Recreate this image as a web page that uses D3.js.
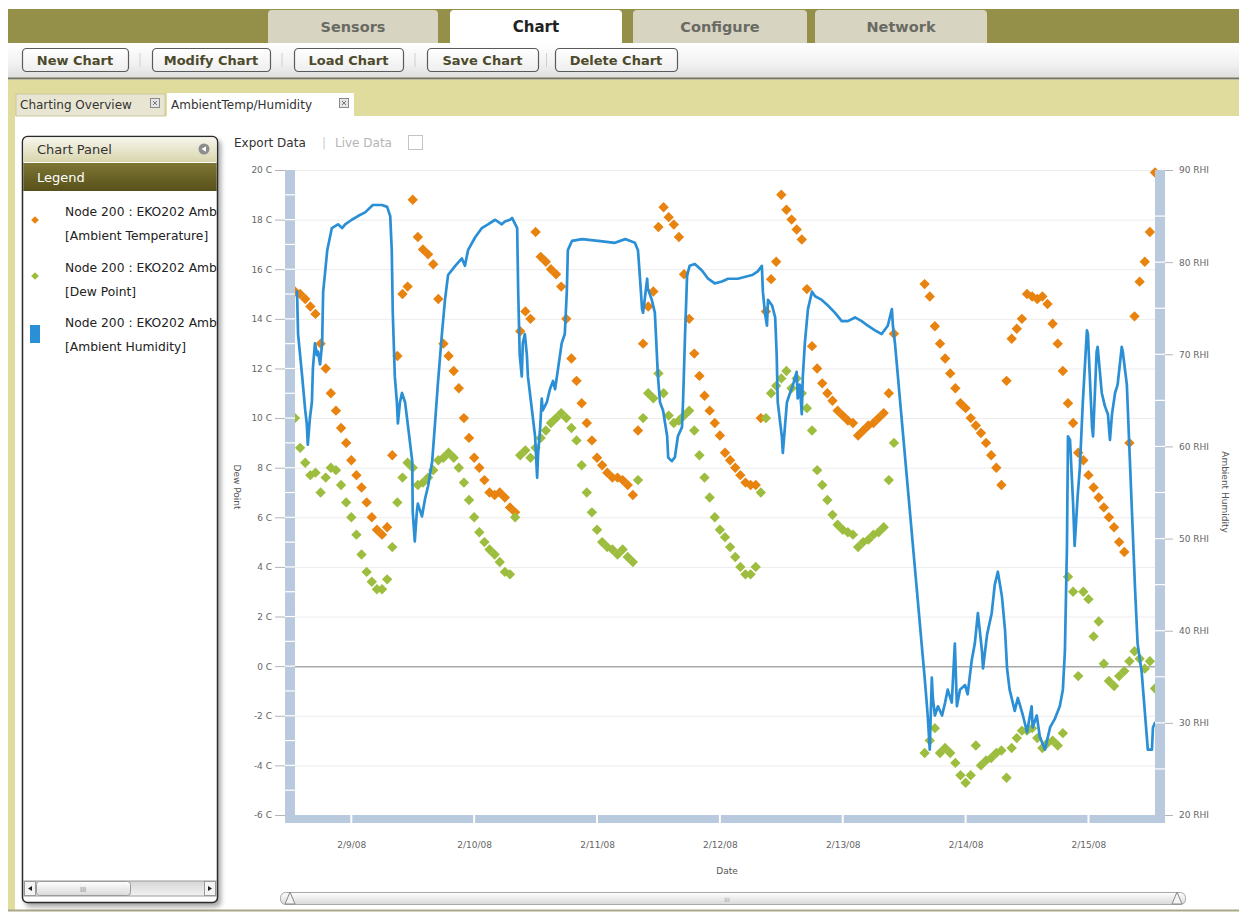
<!DOCTYPE html>
<html>
<head>
<meta charset="utf-8">
<script src="https://cdn.jsdelivr.net/npm/d3@7"></script>
<style>
  html, body { margin: 0; padding: 0; background: #ffffff; }
  svg { display: block; font-family: "DejaVu Sans", Verdana, sans-serif; }
</style>
</head>
<body>
<svg id="app" width="1239" height="914"></svg>
<script>
// ---- Chart data -------------------------------------------------------
// Hourly readings starting 2/8/08 13:00 (index = hours since start).
const startTime = new Date(2008, 1, 8, 13, 0);

const ambientTemperature = [
  15.1, 15.0, 14.8, 14.5, 14.2, 13.0, 12.0, 11.0, 10.3, 9.6, 9.0, 8.3, 7.7, 7.2, 6.6, 6.0, 5.5, 5.3, 5.6, 8.5,
  12.5, 15.0, 15.3, 18.8, 17.3, 16.8, 16.6, 16.2, 14.8, 13.0, 12.5, 11.9, 11.2, 10.0, 9.2, 8.4, 8.0, 7.5, 7.0, 6.9,
  7.0, 6.8, 6.4, 6.2, 13.5, 14.3, 14.0, 17.5, 16.5, 16.3, 16.0, 15.8, 15.3, 14.0, 12.4, 11.5, 10.6, 9.8, 9.1, 8.4,
  8.1, 7.8, 7.6, 7.6, 7.5, 7.3, 6.9, 9.5, 13.0, 14.5, 15.1, 17.7, 18.5, 18.1, 17.8, 17.3, 15.8, 14.0, 12.6, 11.7,
  10.9, 10.3, 9.8, 9.3, 8.6, 8.3, 8.0, 7.7, 7.4, 7.3, 7.3, 10.0, 14.3, 15.6, 16.3, 19.0, 18.4, 18.0, 17.6, 17.2,
  15.2, 12.9, 12.0, 11.4, 11.0, 10.7, 10.3, 10.1, 9.9, 9.8, 9.3, 9.5, 9.7, 9.8, 10.0, 10.2, 11.0, 13.4, null, null,
  null, null, null, 15.4, 14.9, 13.7, 13.0, 12.4, 11.8, 11.2, 10.6, 10.4, 10.0, 9.7, 9.4, 9.0, 8.5, 8.0, 7.3, 11.5,
  13.2, 13.6, 14.0, 15.0, 14.9, 14.8, 14.9, 14.6, 13.8, 13.0, 11.9, 10.6, 9.8, 8.6, 8.3, 7.7, 7.2, 6.8, 6.4, 6.0,
  5.6, 5.0, 4.6, 9.0, 14.1, 15.5, 16.3, 17.5, 19.9
];

const dewPoint = [
  10.0, 8.8, 8.2, 7.7, 7.8, 7.0, 7.6, 8.0, 7.9, 7.3, 6.6, 6.0, 5.3, 4.5, 3.8, 3.4, 3.1, 3.1, 3.5, 4.8,
  6.6, 7.6, 8.2, 8.0, 7.3, 7.4, 7.6, 7.9, 8.3, 8.4, 8.6, 8.4, 8.0, 7.4, 6.7, 6.0, 5.4, 5.0, 4.7, 4.5,
  4.2, 3.8, 3.7, 6.0, 8.5, 8.7, 8.4, 8.8, 9.2, 9.5, 9.8, 10.0, 10.2, 10.0, 9.6, 9.1, 8.1, 7.0, 6.2, 5.5,
  5.0, 4.8, 4.7, 4.5, 4.7, 4.4, 4.2, 7.5, 10.0, 11.0, 10.8, 11.8, 11.0, 10.1, 9.8, 9.9, 10.1, 10.3, 9.5, 8.5,
  7.6, 6.8, 6.0, 5.5, 5.2, 4.8, 4.4, 4.0, 3.7, 3.7, 4.0, 7.0, 10.0, 11.0, 11.3, 11.6, 11.9, 11.2, 11.6, 11.0,
  10.4, 9.5, 7.9, 7.3, 6.7, 6.1, 5.7, 5.5, 5.4, 5.3, 4.8, 5.0, 5.1, 5.3, 5.4, 5.6, 7.5, 9.0, null, null,
  null, null, null, -3.5, -3.0, -2.5, -3.5, -3.3, -3.5, -3.9, -4.4, -4.7, -4.4, -3.2, -4.0, -3.8, -3.7, -3.5, -3.4, -4.5,
  -3.3, -2.9, -2.6, -2.6, -2.5, -2.9, -3.3, -3.1, -3.0, -3.2, -2.7, 3.6, 3.0, -0.4, 3.0, 2.7, 1.2, 1.8, 0.1, -0.6,
  -0.8, -0.4, -0.2, 0.2, 0.6, 0.3, -0.1, 0.2, -0.9
];

// Humidity logged irregularly: [hours since start, % RH]
const ambientHumidity = [
  [0.4, 76.8], [0.6, 72.2], [1.4, 67.6], [2.0, 63.9], [2.3, 62.5], [2.5, 60.2], [2.9, 63.0], [3.3, 64.8],
  [3.5, 68.5], [3.9, 71.2], [4.3, 69.9], [4.5, 70.3], [4.9, 68.9], [5.3, 71.2], [5.5, 76.8], [5.9, 79.0],
  [6.3, 81.3], [7.2, 83.7], [8.4, 84.1], [9.2, 83.7], [9.8, 84.1], [11.1, 84.6], [12.3, 85.0], [13.7, 85.4],
  [15.2, 86.2], [17.0, 86.2], [18.0, 86.0], [18.6, 85.0], [18.9, 81.3], [19.1, 74.5], [19.5, 67.6], [19.9, 64.8],
  [20.1, 62.5], [20.5, 64.8], [20.9, 65.8], [21.5, 64.8], [22.1, 62.1], [22.9, 58.4], [23.0, 52.9], [23.4, 49.7],
  [23.8, 52.9], [24.0, 53.8], [24.8, 52.4], [25.4, 54.3], [26.0, 55.7], [26.8, 58.4], [27.3, 62.1], [27.9, 66.7],
  [28.7, 72.2], [29.3, 75.9], [29.9, 78.6], [31.3, 79.6], [32.6, 80.4], [33.2, 79.6], [33.8, 81.3], [35.2, 82.7],
  [36.5, 83.7], [37.7, 84.1], [39.1, 84.6], [40.4, 84.1], [41.0, 84.4], [42.0, 84.6], [42.4, 84.8], [43.4, 83.7],
  [43.6, 76.8], [43.9, 69.9], [44.3, 67.6], [44.5, 71.2], [44.9, 72.2], [45.3, 69.9], [45.5, 67.6], [46.3, 63.9],
  [46.9, 61.1], [47.3, 56.6], [47.5, 59.3], [47.9, 62.1], [48.2, 65.2], [48.4, 63.9], [49.2, 64.8], [49.8, 66.2],
  [50.4, 67.1], [50.8, 66.2], [51.4, 68.5], [52.1, 71.2], [52.7, 72.2], [53.1, 76.8], [53.3, 81.3], [54.1, 82.3],
  [56.1, 82.5], [59.2, 82.3], [62.5, 82.1], [64.5, 82.5], [66.4, 82.1], [67.0, 81.3], [67.4, 78.2], [67.8, 74.9],
  [68.0, 74.5], [68.8, 78.2], [68.9, 77.2], [69.7, 75.9], [70.3, 74.5], [70.9, 67.6], [71.3, 64.8], [71.9, 63.9],
  [72.7, 61.1], [72.9, 58.8], [73.6, 58.4], [74.2, 58.8], [74.8, 61.1], [75.6, 62.1], [75.8, 64.8], [76.2, 72.2],
  [76.6, 78.6], [77.1, 79.6], [78.1, 79.8], [79.5, 79.1], [80.7, 78.2], [82.0, 77.7], [83.4, 77.9], [84.6, 78.2],
  [86.5, 78.2], [89.3, 78.6], [90.4, 79.0], [91.2, 79.6], [91.4, 76.8], [91.8, 74.5], [92.2, 73.1], [92.4, 75.9],
  [93.2, 75.3], [93.8, 74.0], [94.1, 69.9], [94.3, 64.8], [95.1, 61.1], [95.3, 59.3], [95.7, 62.1], [96.1, 64.8],
  [96.7, 65.8], [97.3, 66.7], [98.0, 68.1], [98.2, 65.2], [98.6, 66.7], [99.0, 63.5], [99.2, 67.6], [99.6, 71.2],
  [100.2, 74.9], [101.0, 76.8], [101.6, 76.3], [102.9, 75.9], [104.1, 75.3], [105.5, 74.5], [106.8, 73.6], [108.0, 73.6],
  [109.4, 74.0], [110.7, 73.6], [111.9, 73.1], [113.3, 72.6], [114.6, 72.2], [115.8, 73.1], [116.6, 74.9], [116.8, 73.1],
  [117.2, 71.2], [123.0, 34.9], [123.4, 32.2], [123.6, 30.8], [124.0, 27.1], [124.4, 34.9], [124.6, 32.7], [125.0, 30.8],
  [125.6, 31.8], [126.4, 30.8], [127.0, 32.2], [127.5, 33.6], [128.3, 32.2], [128.9, 38.6], [129.3, 31.8], [129.9, 33.6],
  [130.9, 34.1], [131.4, 33.1], [132.2, 36.8], [132.8, 38.6], [133.4, 41.9], [134.2, 37.8], [134.4, 35.9], [135.2, 39.6],
  [136.1, 41.9], [136.7, 45.0], [137.3, 46.4], [138.1, 43.7], [138.7, 40.1], [139.1, 35.9], [139.6, 33.6], [140.6, 31.3],
  [141.2, 32.7], [142.2, 30.8], [143.0, 29.0], [143.9, 31.8], [144.1, 29.5], [144.9, 30.8], [145.5, 28.5], [146.5, 27.1],
  [147.5, 29.5], [148.4, 30.4], [149.4, 31.8], [150.0, 33.6], [150.4, 37.8], [150.8, 49.2], [151.0, 61.1], [151.4, 60.7],
  [152.0, 53.8], [152.3, 49.2], [152.9, 54.7], [153.3, 57.5], [153.9, 64.8], [154.7, 72.6], [154.9, 72.2], [155.7, 62.1],
  [155.9, 61.1], [156.6, 70.3], [156.8, 70.8], [157.6, 65.8], [158.2, 64.4], [158.8, 63.5], [159.2, 60.7], [159.6, 63.5],
  [160.2, 65.8], [160.7, 66.7], [161.5, 70.8], [161.7, 70.3], [162.5, 66.7], [163.1, 58.4], [164.1, 44.6], [164.6, 38.6],
  [165.4, 35.5], [166.0, 31.3], [166.6, 27.1], [167.4, 27.1], [167.6, 29.5], [168.0, 30.0]
];

const temperatureTicks = [20, 18, 16, 14, 12, 10, 8, 6, 4, 2, 0, -2, -4, -6];
const humidityTicks = [90, 80, 70, 60, 50, 40, 30, 20];

// ---- UI text ------------------------------------------------------------
const navTabs = ["Sensors", "Chart", "Configure", "Network"];
const toolButtons = ["New Chart", "Modify Chart", "Load Chart", "Save Chart", "Delete Chart"];
const docTabs = ["Charting Overview", "AmbientTemp/Humidity"];
// series names are cut off by the narrow legend panel
const legendEntries = [
  { name: "Node 200 : EKO202 Amb", field: "[Ambient Temperature]", color: "#e8830f", shape: "diamond" },
  { name: "Node 200 : EKO202 Amb", field: "[Dew Point]", color: "#9dbd3f", shape: "diamond" },
  { name: "Node 200 : EKO202 Amb", field: "[Ambient Humidity]", color: "#2b8fd6", shape: "square" }
];

const COLORS = { temp: "#e8830f", dew: "#9dbd3f", hum: "#2b8fd6", bar: "#b9c9de" };

// ---- Drawing -----------------------------------------------------------
const svg = d3.select("#app");
const defs = svg.append("defs");
function vGrad(id, stops) {
  const g = defs.append("linearGradient").attr("id", id)
    .attr("x1", 0).attr("y1", 0).attr("x2", 0).attr("y2", 1);
  stops.forEach(([o, c]) => g.append("stop").attr("offset", o).attr("stop-color", c));
}
vGrad("gToolbar", [[0, "#ffffff"], [0.6, "#f1f1f1"], [1, "#dedede"]]);
vGrad("gHeader", [[0, "#f7f6ec"], [1, "#d8d5ad"]]);
vGrad("gLegendBar", [[0, "#7e7634"], [1, "#57501a"]]);
vGrad("gButton", [[0, "#ffffff"], [1, "#eeeeee"]]);
vGrad("gScroll", [[0, "#ffffff"], [1, "#d9d9d9"]]);
vGrad("gTrack", [[0, "#d6d6d6"], [1, "#f2f2f2"]]);
defs.append("filter").attr("id", "shadow").attr("x", "-10%").attr("y", "-10%").attr("width", "130%").attr("height", "130%")
  .append("feGaussianBlur").attr("stdDeviation", 2.5);

// top navigation band
svg.append("rect").attr("x", 8).attr("y", 9).attr("width", 1231).attr("height", 34).attr("fill", "#959049");
const navX = [268, 450, 633, 815];
const navW = [170, 172, 174, 172];
navTabs.forEach((t, i) => {
  const x = navX[i], w = navW[i], y = 10, b = 43, r = 4;
  const sel = t === "Chart";
  svg.append("path")
    .attr("d", `M${x},${b}V${y + r}Q${x},${y} ${x + r},${y}H${x + w - r}Q${x + w},${y} ${x + w},${y + r}V${b}Z`)
    .attr("fill", sel ? "#ffffff" : "#d7d5c2");
  svg.append("text").attr("x", x + w / 2).attr("y", 32).attr("text-anchor", "middle")
    .attr("font-size", sel ? 15 : 14.5).attr("font-weight", "bold")
    .attr("fill", sel ? "#222222" : "#6a6a64").text(t);
});

// toolbar
svg.append("rect").attr("x", 8).attr("y", 43).attr("width", 1231).attr("height", 35).attr("fill", "url(#gToolbar)");
svg.append("line").attr("x1", 8).attr("x2", 1239).attr("y1", 78.5).attr("y2", 78.5).attr("stroke", "#77755a").attr("stroke-width", 2);
const btnX = [22, 152, 294, 427, 555];
const btnW = [106, 118, 109, 111, 122];
toolButtons.forEach((t, i) => {
  svg.append("rect").attr("x", btnX[i] + 0.5).attr("y", 48.5).attr("width", btnW[i]).attr("height", 23).attr("rx", 4)
    .attr("fill", "url(#gButton)").attr("stroke", "#5a5a5a").attr("stroke-width", 1.2);
  svg.append("text").attr("x", btnX[i] + btnW[i] / 2).attr("y", 64.5).attr("text-anchor", "middle")
    .attr("font-size", 13).attr("font-weight", "bold").attr("fill", "#4d4a2c").text(t);
  if (i > 0) {
    const sx = (btnX[i - 1] + btnW[i - 1] + btnX[i]) / 2;
    svg.append("line").attr("x1", sx).attr("x2", sx).attr("y1", 53).attr("y2", 67).attr("stroke", "#d0d0d0");
  }
});

// document tab strip and page frame
svg.append("rect").attr("x", 8).attr("y", 80).attr("width", 1231).attr("height", 36).attr("fill", "#dfdc9d");
svg.append("rect").attr("x", 8).attr("y", 116).attr("width", 7).attr("height", 795).attr("fill", "#dfdc9d");
svg.append("rect").attr("x", 15).attr("y", 116).attr("width", 1224).attr("height", 794).attr("fill", "#ffffff");
svg.append("line").attr("x1", 8).attr("x2", 1239).attr("y1", 910.5).attr("y2", 910.5).attr("stroke", "#a9a78a").attr("stroke-width", 2);

const docTabX = [16, 167], docTabW = [149, 187];
docTabs.forEach((t, i) => {
  const sel = i === 1;
  svg.append("rect").attr("x", docTabX[i]).attr("y", sel ? 93 : 94).attr("width", docTabW[i]).attr("height", sel ? 24 : 22)
    .attr("fill", sel ? "#ffffff" : "#e8e6d2").attr("stroke", sel ? "none" : "#cbc89e");
  svg.append("text").attr("x", docTabX[i] + 4).attr("y", 109).attr("font-size", 12).attr("fill", "#333333").text(t);
  const cx = docTabX[i] + docTabW[i] - 14;
  svg.append("rect").attr("x", cx - 0.5).attr("y", 98.5).attr("width", 9).attr("height", 9)
    .attr("fill", "#e4e4e4").attr("stroke", "#8a8a8a");
  svg.append("path").attr("d", `M${cx + 2},${101}L${cx + 6},${105}M${cx + 6},${101}L${cx + 2},${105}`)
    .attr("stroke", "#777").attr("stroke-width", 1);
});

// chart panel with legend
svg.append("rect").attr("x", 25).attr("y", 140).attr("width", 196).attr("height", 767).attr("rx", 5)
  .attr("fill", "rgba(0,0,0,0.35)").attr("filter", "url(#shadow)");
svg.append("rect").attr("x", 22.5).attr("y", 136.5).attr("width", 195).attr("height", 766).attr("rx", 5)
  .attr("fill", "#ffffff").attr("stroke", "#2a2a2a").attr("stroke-width", 1.5);
svg.append("path").attr("d", "M23.3,162V142Q23.3,137.3 28,137.3H212Q216.7,137.3 216.7,142V162Z").attr("fill", "url(#gHeader)");
svg.append("text").attr("x", 37).attr("y", 154).attr("font-size", 13).attr("fill", "#333333").text("Chart Panel");
svg.append("circle").attr("cx", 204).attr("cy", 149).attr("r", 5.5).attr("fill", "#8d8d8d");
svg.append("path").attr("d", "M201.5,149L206,146.2V151.8Z").attr("fill", "#ffffff");
svg.append("rect").attr("x", 23.3).attr("y", 163).attr("width", 193.4).attr("height", 28).attr("fill", "url(#gLegendBar)");
svg.append("text").attr("x", 37).attr("y", 182).attr("font-size", 13).attr("fill", "#ffffff").text("Legend");

defs.append("clipPath").attr("id", "panelClip").append("rect")
  .attr("x", 23).attr("y", 192).attr("width", 194).attr("height", 680);
const legendG = svg.append("g").attr("clip-path", "url(#panelClip)");
const legendTop = [216, 272, 327];
legendEntries.forEach((e, i) => {
  const y = legendTop[i];
  if (e.shape === "diamond") {
    legendG.append("path").attr("d", d3.symbol(d3.symbolSquare, 30)())
      .attr("transform", `translate(35,${y + 4}) rotate(45)`).attr("fill", e.color);
  } else {
    legendG.append("rect").attr("x", 30).attr("y", y - 2).attr("width", 10).attr("height", 18).attr("fill", e.color);
  }
  legendG.append("text").attr("x", 65).attr("y", y).attr("font-size", 12.3).attr("fill", "#222222").text(e.name);
  legendG.append("text").attr("x", 65).attr("y", y + 24).attr("font-size", 12.3).attr("fill", "#222222").text(e.field);
});

// panel horizontal scrollbar
svg.append("rect").attr("x", 24).attr("y", 881).attr("width", 192).attr("height", 15).attr("fill", "url(#gTrack)").attr("stroke", "#9a9a9a");
svg.append("rect").attr("x", 36.5).attr("y", 881.5).attr("width", 94).attr("height", 14).attr("rx", 3).attr("fill", "url(#gScroll)").attr("stroke", "#9a9a9a");
svg.append("text").attr("x", 83).attr("y", 892).attr("text-anchor", "middle").attr("font-size", 7).attr("fill", "#888").text("III");
svg.append("rect").attr("x", 24.5).attr("y", 881.5).attr("width", 11).attr("height", 14).attr("fill", "#f4f4f4").attr("stroke", "#9a9a9a");
svg.append("rect").attr("x", 204.5).attr("y", 881.5).attr("width", 11).attr("height", 14).attr("fill", "#f4f4f4").attr("stroke", "#9a9a9a");
svg.append("path").attr("d", "M28,888.5L32,886V891Z").attr("fill", "#222");
svg.append("path").attr("d", "M212,888.5L208,886V891Z").attr("fill", "#222");

// chart header links
svg.append("text").attr("x", 234).attr("y", 147).attr("font-size", 12).attr("fill", "#333333").text("Export Data");
svg.append("text").attr("x", 322).attr("y", 147).attr("font-size", 12).attr("fill", "#cccccc").text("|");
svg.append("text").attr("x", 335).attr("y", 147).attr("font-size", 12).attr("fill", "#b5b5b5").text("Live Data");
svg.append("rect").attr("x", 408.5).attr("y", 135.5).attr("width", 14).attr("height", 14).attr("fill", "#ffffff").attr("stroke", "#c4c4c4");

// ---- Plot --------------------------------------------------------------
const plot = { left: 295, right: 1155, top: 170, bottom: 815 };
const hourMs = 3600 * 1000;
const timeAt = h => new Date(startTime.getTime() + h * hourMs);

const x = d3.scaleTime().domain([startTime, timeAt(168)]).range([plot.left, plot.right]);
const yTemp = d3.scaleLinear().domain([-6, 20]).range([plot.bottom, plot.top]);
const yHum = d3.scaleLinear().domain([20, 90]).range([plot.bottom, plot.top]);

// horizontal grid
svg.append("g").selectAll("line").data(temperatureTicks).join("line")
  .attr("x1", plot.left).attr("x2", plot.right)
  .attr("y1", d => yTemp(d) + 0.5).attr("y2", d => yTemp(d) + 0.5)
  .attr("stroke", d => d === 0 ? "#a8a8a8" : "#ececec")
  .attr("stroke-width", d => d === 0 ? 1.5 : 1);

// series
const diamond = "M0,-5.2L5.2,0L0,5.2L-5.2,0Z";
const tempPts = ambientTemperature.map((v, i) => ({ t: timeAt(i), v })).filter(d => d.v !== null);
const dewPts = dewPoint.map((v, i) => ({ t: timeAt(i), v })).filter(d => d.v !== null);

svg.append("g").selectAll("path").data(tempPts).join("path")
  .attr("d", diamond).attr("transform", d => `translate(${x(d.t)},${yTemp(d.v)})`).attr("fill", COLORS.temp);
svg.append("g").selectAll("path").data(dewPts).join("path")
  .attr("d", diamond).attr("transform", d => `translate(${x(d.t)},${yTemp(d.v)})`).attr("fill", COLORS.dew);

const humLine = d3.line().x(d => x(timeAt(d[0]))).y(d => yHum(d[1]));
svg.append("path").datum(ambientHumidity).attr("d", humLine)
  .attr("fill", "none").attr("stroke", COLORS.hum).attr("stroke-width", 2.7)
  .attr("stroke-linejoin", "round").attr("stroke-linecap", "round");

// axis bars
svg.append("rect").attr("x", 285).attr("y", plot.top).attr("width", 10).attr("height", plot.bottom - plot.top + 8).attr("fill", COLORS.bar);
svg.append("rect").attr("x", plot.right).attr("y", plot.top).attr("width", 10).attr("height", plot.bottom - plot.top + 8).attr("fill", COLORS.bar);
svg.append("rect").attr("x", 285).attr("y", plot.bottom).attr("width", plot.right + 10 - 285).attr("height", 8).attr("fill", COLORS.bar);

svg.append("g").selectAll("line").data(d3.range(-5, 20, 1)).join("line")
  .attr("x1", 285).attr("x2", 295).attr("y1", d => yTemp(d)).attr("y2", d => yTemp(d))
  .attr("stroke", "#ffffff").attr("stroke-width", 1.2);
svg.append("g").selectAll("line").data(d3.range(25, 90, 5)).join("line")
  .attr("x1", plot.right).attr("x2", plot.right + 10).attr("y1", d => yHum(d)).attr("y2", d => yHum(d))
  .attr("stroke", "#ffffff").attr("stroke-width", 1.2);
const dayTicks = x.ticks(d3.timeDay.every(1));
svg.append("g").selectAll("line").data(dayTicks).join("line")
  .attr("x1", d => x(d)).attr("x2", d => x(d)).attr("y1", plot.bottom).attr("y2", plot.bottom + 8)
  .attr("stroke", "#ffffff").attr("stroke-width", 2);

// axes
function styleAxis(g) {
  g.select(".domain").remove();
  g.selectAll(".tick line").attr("stroke", "#b5b5b5");
  g.selectAll(".tick text").attr("fill", "#666666").attr("font-size", 9).attr("font-family", "DejaVu Sans, sans-serif");
}
svg.append("g").attr("transform", "translate(285,0)")
  .call(d3.axisLeft(yTemp).tickValues(temperatureTicks).tickFormat(d => `${d} C`).tickSize(10).tickPadding(3))
  .call(styleAxis);
svg.append("g").attr("transform", `translate(${plot.right + 10},0)`)
  .call(d3.axisRight(yHum).tickValues(humidityTicks).tickFormat(d => `${d} RHI`).tickSize(8).tickPadding(6))
  .call(styleAxis);
svg.append("g").attr("transform", `translate(0,${plot.bottom + 8})`)
  .call(d3.axisBottom(x).ticks(d3.timeDay.every(1)).tickFormat(d3.timeFormat("%-m/%-d/%y")).tickSize(0).tickPadding(19))
  .call(styleAxis);

// axis titles
svg.append("text").attr("transform", "translate(234,487) rotate(90)").attr("text-anchor", "middle")
  .attr("font-size", 9).attr("fill", "#555555").text("Dew Point");
svg.append("text").attr("transform", "translate(1222,492) rotate(90)").attr("text-anchor", "middle")
  .attr("font-size", 9).attr("fill", "#555555").text("Ambient Humidity");
svg.append("text").attr("x", 727).attr("y", 874).attr("text-anchor", "middle")
  .attr("font-size", 9).attr("fill", "#555555").text("Date");

// range slider under the chart
svg.append("rect").attr("x", 280.5).attr("y", 892.5).attr("width", 905).attr("height", 12).attr("rx", 5)
  .attr("fill", "url(#gScroll)").attr("stroke", "#a8a8a8");
svg.append("text").attr("x", 727).attr("y", 901.5).attr("text-anchor", "middle").attr("font-size", 6).attr("fill", "#999").text("III");
svg.append("path").attr("d", "M285,904L290,892L295,904Z").attr("fill", "#f4f4f4").attr("stroke", "#888");
svg.append("path").attr("d", "M1172,904L1177,892L1182,904Z").attr("fill", "#f4f4f4").attr("stroke", "#888");
</script>
</body>
</html>
